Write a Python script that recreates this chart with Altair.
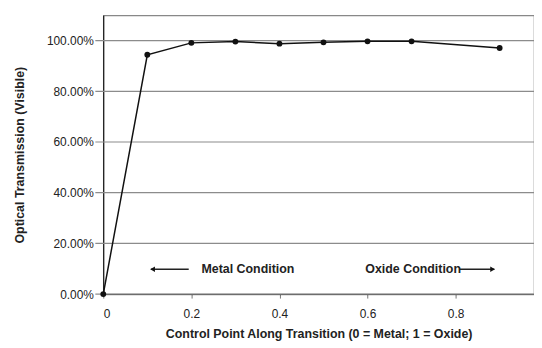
import altair as alt
import pandas as pd

x_vals = [0.0, 0.1, 0.2, 0.3, 0.4, 0.5, 0.6, 0.7, 0.9]
y_vals = [0.0, 0.944, 0.991, 0.996, 0.988, 0.993, 0.997, 0.997, 0.971]

y_ticks = [0.0, 0.2, 0.4, 0.6, 0.8, 1.0]
x_ticks = [0.0, 0.2, 0.4, 0.6, 0.8]

arrow_x = [0.108, 0.808]
arrow_x2 = [0.194, 0.888]
arrow_y = [0.098, 0.098]
head_x = [0.112, 0.884]
head_shape = ["triangle-left", "triangle-right"]
label_x = [0.223, 0.595]
label_text = ["Metal Condition", "Oxide Condition"]

df = pd.DataFrame({"x": x_vals, "y": y_vals})
grid = pd.DataFrame({"y": y_ticks})
arr = pd.DataFrame({"x": arrow_x, "x2": arrow_x2, "y": arrow_y,
                    "hx": head_x, "shape": head_shape})
lab = pd.DataFrame({"x": label_x, "y": arrow_y, "t": label_text})

xs = alt.Scale(domain=[0, 0.978], nice=False, zero=False)
ys = alt.Scale(domain=[0, 1.1], nice=False)

xaxis = alt.Axis(values=x_ticks, format="g",
                 title="Control Point Along Transition (0 = Metal; 1 = Oxide)")
yaxis = alt.Axis(values=y_ticks, format=".2%",
                 title="Optical Transmission (Visible)")

gridlines = alt.Chart(grid).mark_rule(color="#8c8c8c", strokeWidth=1.2).encode(
    y=alt.Y("y:Q", scale=ys, axis=yaxis),
    x=alt.value(-8), x2=alt.value(434),
)
line = alt.Chart(df).mark_line(color="#111", strokeWidth=1.5).encode(
    x=alt.X("x:Q", scale=xs, axis=xaxis),
    y=alt.Y("y:Q", scale=ys),
)
pts = alt.Chart(df).mark_point(filled=True, color="#111", size=35, opacity=1).encode(
    x=alt.X("x:Q", scale=xs), y=alt.Y("y:Q", scale=ys)
)
rules = alt.Chart(arr).mark_rule(color="#222", strokeWidth=1.6).encode(
    x=alt.X("x:Q", scale=xs), x2="x2:Q", y=alt.Y("y:Q", scale=ys)
)
heads = alt.Chart(arr).mark_point(filled=True, color="#111", size=30, opacity=1).encode(
    x=alt.X("hx:Q", scale=xs), y=alt.Y("y:Q", scale=ys),
    shape=alt.Shape("shape:N", scale=None, legend=None)
)
texts = alt.Chart(lab).mark_text(align="left", baseline="middle", fontSize=12.5,
                                 fontWeight="bold", font="Liberation Sans",
                                 color="#222").encode(
    x=alt.X("x:Q", scale=xs), y=alt.Y("y:Q", scale=ys), text="t:N"
)

chart = alt.layer(gridlines, line, pts, rules, heads, texts).properties(
    width=434, height=281,
    autosize=alt.AutoSizeParams(type="none"),
    padding={"left": 96, "top": 6, "right": 0, "bottom": 53},
).configure_view(stroke="#888", strokeWidth=1.2
).configure_axis(
    domainColor="#000", labelColor="#222", titleColor="#222",
    labelFont="Liberation Sans", titleFont="Liberation Sans",
    titleFontWeight="bold", titleFontSize=12.5, labelFontSize=12,
    grid=False,
).configure_axisX(
    tickColor="#777", tickSize=4, labelPadding=11, titlePadding=8,
).configure_axisY(
    ticks=False, labelPadding=10, titlePadding=20,
)

chart.save("out.html", embed_options={"renderer": "svg", "actions": False})
